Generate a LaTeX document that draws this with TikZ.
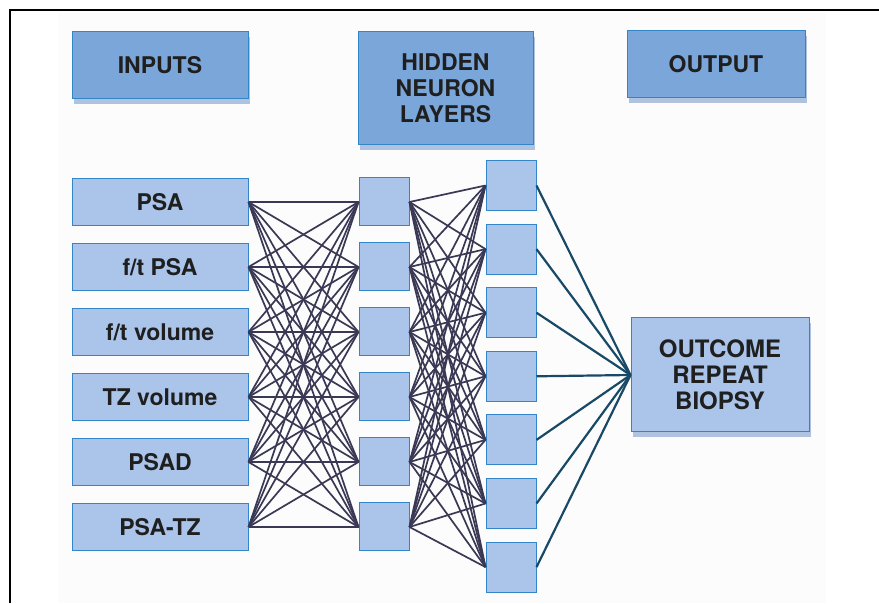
\documentclass[tikz,border=0pt]{standalone}
\usepackage{fontspec}
\setmainfont{TeX Gyre Heros}
\usetikzlibrary{shadows}
\usepackage{xcolor}

\definecolor{headblue}{RGB}{123,166,218}
\definecolor{boxblue}{RGB}{170,196,234}
\definecolor{edgeblue}{RGB}{52,132,200}
\definecolor{shadeblue}{RGB}{60,110,185}
\definecolor{wiregray}{RGB}{58,56,84}
\definecolor{wireteal}{RGB}{24,74,104}

\begin{document}
\begin{tikzpicture}[thick,
  head/.style={rectangle,draw=edgeblue,fill=headblue,line width=1pt,inner sep=0pt,
    minimum width=176pt,align=center,text=black!88,
    font=\fontsize{23}{26}\selectfont\bfseries,
    drop shadow={fill=shadeblue,opacity=.4,shadow xshift=2pt,shadow yshift=-5pt}},
  inbox/.style={rectangle,draw=edgeblue,fill=boxblue,line width=1pt,inner sep=0pt,
    minimum width=176pt,minimum height=47pt,text=black!88,
    font=\fontsize{23}{26}\selectfont\bfseries},
  unit/.style={rectangle,draw=edgeblue,fill=boxblue,line width=1pt,inner sep=0pt,
    minimum width=50pt,minimum height=48pt},
  wire/.style={wiregray,line width=1.7pt},
  outwire/.style={wireteal,line width=2.2pt}]

\useasboundingbox (0,0) rectangle (879pt,603pt);
\fill [black!1] (58pt,0) rectangle (826pt,590pt);
\draw [line width=1.2pt] (10pt,0) -- (10pt,593pt) -- (879pt,593pt);

% column headings
\node [head,minimum height=67pt] (inputs) at (160pt,537.5pt) {INPUTS};
\node [head,minimum width=175pt,minimum height=113pt] (hidden) at (445.5pt,514.5pt) {HIDDEN\\NEURON\\LAYERS};
\node [head,minimum width=178pt,minimum height=67pt] (output) at (716pt,538.5pt) {OUTPUT};

% input variables
\node [inbox] (i1) at (160pt,401pt) {PSA};
\node [inbox,below=17pt,at=(i1.south)] (i2) {f/t PSA};
\node [inbox,below=17pt,at=(i2.south)] (i3) {f/t volume};
\node [inbox,below=17pt,at=(i3.south)] (i4) {TZ volume};
\node [inbox,below=17pt,at=(i4.south)] (i5) {PSAD};
\node [inbox,below=17pt,at=(i5.south)] (i6) {PSA-TZ};

% hidden neurons
\foreach \n in {1,...,6}
  \node [unit,right=110pt,at=(i\n.east)] (h\n) {};
\foreach \n in {1,...,7}
  \node [unit,minimum height=50pt] (k\n) at (511pt,{417.5pt-63.6pt*(\n-1)}) {};

% result
\node [head,fill=boxblue,minimum width=178pt,minimum height=114pt,
  font=\fontsize{24}{26}\selectfont\bfseries] (outcome) at (720pt,228pt) {OUTCOME\\REPEAT\\BIOPSY};

\foreach \a in {1,...,6}
  \foreach \b in {1,...,6}
    \draw [wire] (i\a.east) -- (h\b.west);
\foreach \a in {1,...,6}
  \foreach \b in {1,...,7}
    \draw [wire] (h\a.east) -- (k\b.west);
\foreach \b in {1,...,7}
  \draw [outwire] (k\b.east) -- (outcome.west);
\end{tikzpicture}
\end{document}
